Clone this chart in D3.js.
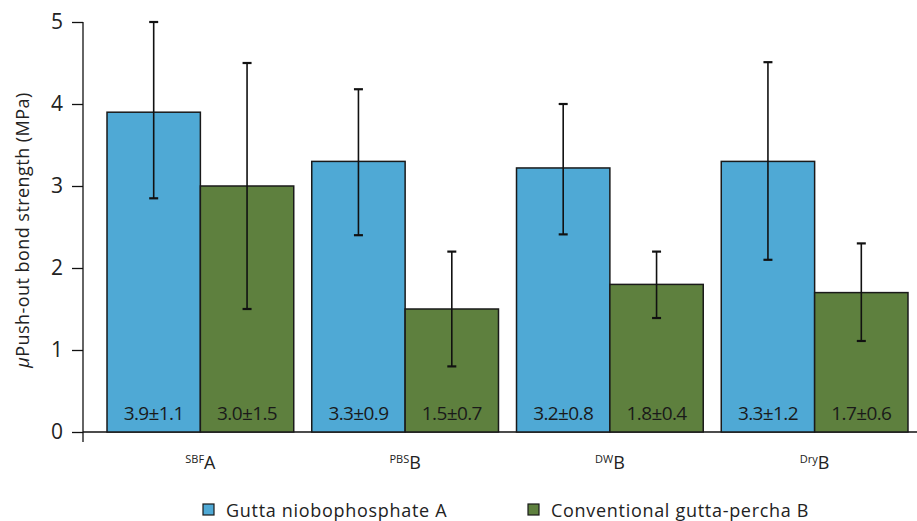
<!DOCTYPE html>
<html>
<head>
<meta charset="utf-8">
<script src="https://cdn.jsdelivr.net/npm/d3@7"></script>
<style>
  html, body { margin: 0; padding: 0; background: #fff; }
  svg { display: block; font-family: 'Open Sans', Lato, sans-serif; }
</style>
</head>
<body>
<div id="chart"></div>
<script>
// data
const groups = ['SBF|A', 'PBS|B', 'DW|B', 'Dry|B'];
const seriesNames = ['Gutta niobophosphate A', 'Conventional gutta-percha B'];
const seriesColors = ['#4fa9d5', '#5e803e'];
const meanA = [3.9, 3.3, 3.22, 3.3];
const meanB = [3.0, 1.5, 1.8, 1.7];
const lowA = [2.85, 2.4, 2.41, 2.1];
const highA = [5.0, 4.18, 4.0, 4.51];
const lowB = [1.5, 0.8, 1.39, 1.11];
const highB = [4.5, 2.2, 2.2, 2.3];
const labelsA = ['3.9±1.1', '3.3±0.9', '3.2±0.8', '3.3±1.2'];
const labelsB = ['3.0±1.5', '1.5±0.7', '1.8±0.4', '1.7±0.6'];
const yTicks = [0, 1, 2, 3, 4, 5];

class BarChart {
  constructor(elem, width, height) {
    this.width = width;
    this.height = height;
    this.svg = d3.select(elem).append('svg')
      .attr('width', width)
      .attr('height', height);

    this.createScales();
    this.createAxes();
    this.createBars();
    this.createLegend();
  }

  createScales() {
    this.y = d3.scaleLinear().domain([0, 5]).range([432, 22]);
    this.x = d3.scaleBand()
      .domain(groups)
      .range([98, 917])
      .paddingInner(0.088)
      .paddingOuter(0.044);
    this.xs = d3.scaleBand()
      .domain([0, 1])
      .range([0, this.x.bandwidth()]);
  }

  createAxes() {
    const yAxis = this.svg.append('g')
      .attr('transform', 'translate(83,0)')
      .call(d3.axisLeft(this.y)
        .tickValues(yTicks)
        .tickFormat(d3.format('d'))
        .tickSize(11)
        .tickPadding(9));
    yAxis.select('.domain').remove();
    yAxis.selectAll('.tick line').attr('stroke', '#111').attr('stroke-width', 1.3);
    yAxis.selectAll('.tick text')
      .attr('font-family', "'Open Sans', sans-serif")
      .attr('font-size', 21)
      .attr('fill', '#222');

    this.svg.append('line')
      .attr('x1', 83).attr('x2', 83)
      .attr('y1', this.y(5)).attr('y2', this.y(0) + 10)
      .attr('stroke', '#111').attr('stroke-width', 1.3);

    this.svg.append('line')
      .attr('x1', 83).attr('x2', this.width)
      .attr('y1', this.y(0)).attr('y2', this.y(0))
      .attr('stroke', '#111').attr('stroke-width', 1.3);

    // y title
    const title = this.svg.append('text')
      .attr('transform', `translate(29,${(this.y(0) + this.y(5)) / 2 + 3}) rotate(-90)`)
      .attr('text-anchor', 'middle')
      .attr('font-size', 18)
      .attr('letter-spacing', 0.45)
      .attr('fill', '#222');
    title.append('tspan').attr('font-style', 'italic').text('μ');
    title.append('tspan').text('Push-out bond strength (MPa)');

    // x category labels with superscript prefix
    const xl = this.svg.append('g').selectAll('text')
      .data(groups)
      .join('text')
      .attr('x', (d) => this.x(d) + this.x.bandwidth() / 2)
      .attr('y', 469)
      .attr('text-anchor', 'middle')
      .attr('fill', '#222');
    xl.append('tspan')
      .attr('font-size', 11)
      .attr('dy', -6)
      .text((d) => d.split('|')[0]);
    xl.append('tspan')
      .attr('font-size', 18)
      .attr('dy', 6)
      .text((d) => d.split('|')[1]);
  }

  createBars() {
    const series = [
      { means: meanA, low: lowA, high: highA, labels: labelsA },
      { means: meanB, low: lowB, high: highB, labels: labelsB },
    ];
    const bw = this.xs.bandwidth();

    series.forEach((s, si) => {
      const g = this.svg.append('g');
      const rows = groups.map((key, i) => ({
        key, mean: s.means[i], low: s.low[i], high: s.high[i], label: s.labels[i],
      }));
      const x0 = (d) => this.x(d.key) + this.xs(si);

      g.selectAll('rect')
        .data(rows)
        .join('rect')
        .attr('x', x0)
        .attr('y', (d) => this.y(d.mean))
        .attr('width', bw)
        .attr('height', (d) => this.y(0) - this.y(d.mean))
        .attr('fill', seriesColors[si])
        .attr('stroke', '#1a1a1a')
        .attr('stroke-width', 1.5);

      // error bars
      g.selectAll('line.err')
        .data(rows)
        .join('line')
        .attr('class', 'err')
        .attr('x1', (d) => x0(d) + bw / 2)
        .attr('x2', (d) => x0(d) + bw / 2)
        .attr('y1', (d) => this.y(d.low))
        .attr('y2', (d) => this.y(d.high))
        .attr('stroke', '#111')
        .attr('stroke-width', 1.6);
      ['low', 'high'].forEach((k) => {
        g.selectAll(`line.cap-${k}`)
          .data(rows)
          .join('line')
          .attr('class', `cap-${k}`)
          .attr('x1', (d) => x0(d) + bw / 2 - 4.5)
          .attr('x2', (d) => x0(d) + bw / 2 + 4.5)
          .attr('y1', (d) => this.y(d[k]))
          .attr('y2', (d) => this.y(d[k]))
          .attr('stroke', '#111')
          .attr('stroke-width', 2.2);
      });

      g.selectAll('text')
        .data(rows)
        .join('text')
        .attr('x', (d) => x0(d) + bw / 2)
        .attr('y', 420)
        .attr('text-anchor', 'middle')
        .attr('font-size', 19)
        .attr('letter-spacing', -0.6)
        .attr('fill', '#1a1a1a')
        .text((d) => d.label);
    });
  }

  createLegend() {
    const pos = [203, 528];
    const items = this.svg.append('g').selectAll('g')
      .data(seriesNames)
      .join('g')
      .attr('transform', (d, i) => `translate(${pos[i]},504)`);
    items.append('rect')
      .attr('width', 11).attr('height', 11)
      .attr('fill', (d, i) => seriesColors[i])
      .attr('stroke', '#1a1a1a')
      .attr('stroke-width', 1.2);
    items.append('text')
      .attr('x', 23)
      .attr('y', 13)
      .attr('font-size', 18)
      .attr('letter-spacing', 0.7)
      .attr('fill', '#222')
      .text((d) => d);
  }
}

new BarChart('#chart', 917, 521);
</script>
</body>
</html>
